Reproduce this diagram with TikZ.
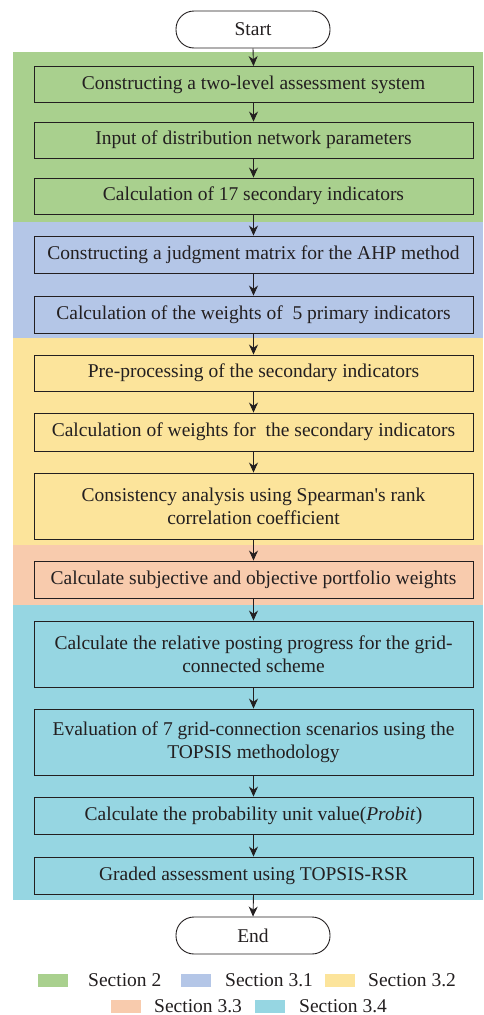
\documentclass[tikz,border=0pt]{standalone}
\usepackage{fontspec}
\setmainfont{Liberation Serif}[Ligatures=TeXOff]
\usetikzlibrary{arrows.meta}
\definecolor{secA}{RGB}{169,208,142}
\definecolor{secB}{RGB}{180,198,231}
\definecolor{secC}{RGB}{252,228,155}
\definecolor{secD}{RGB}{248,203,173}
\definecolor{secE}{RGB}{150,214,226}
\definecolor{ink}{RGB}{35,31,32}
\tikzset{
  stepbox/.style={draw=ink, line width=0.9pt, minimum width=439pt, inner sep=0pt,
    align=center, text=ink, font=\fontsize{19.5}{23}\selectfont},
  termbox/.style={draw=ink, line width=0.9pt, minimum width=154pt, minimum height=37pt,
    rounded corners=18pt, inner sep=0pt, text=ink, font=\fontsize{19.5}{23}\selectfont},
  flow/.style={draw=ink, line width=0.9pt, -{Stealth[length=10pt,width=9pt]}},
  swatch/.style={draw=none, minimum width=30pt, minimum height=13pt, inner sep=0pt},
  legtext/.style={text=ink, font=\fontsize{19.5}{23}\selectfont, anchor=west, inner sep=0pt}
}
\begin{document}
\begin{tikzpicture}[x=1pt,y=-1pt]
\useasboundingbox (0,0) rectangle (483,1015);
% section bands
\fill[secA] (13,52) rectangle (483,222);
\fill[secB] (13,222) rectangle (483,338);
\fill[secC] (13,338) rectangle (483,545);
\fill[secD] (13,545) rectangle (483,605);
\fill[secE] (13,605) rectangle (483,900);

% terminals and steps
\node[termbox] (start) at (253,29.5) {Start};
\node[stepbox, minimum height=36pt] (s1) at (253.5,84.5) {Constructing a two-level assessment system};
\node[stepbox, minimum height=36pt] (s2) at (253.5,140) {Input of distribution network parameters};
\node[stepbox, minimum height=36pt] (s3) at (253.5,196) {Calculation of 17 secondary indicators};
\node[stepbox, minimum height=37pt] (s4) at (253.5,254.5) {Constructing a judgment matrix for the AHP method};
\node[stepbox, minimum height=37pt] (s5) at (253.5,314.5) {Calculation of the weights of~ 5 primary indicators};
\node[stepbox, minimum height=36pt] (s6) at (253.5,373) {Pre-processing of the secondary indicators};
\node[stepbox, minimum height=38pt] (s7) at (253.5,432) {Calculation of weights for~ the secondary indicators};
\node[stepbox, minimum height=66pt] (s8) at (253.5,506) {Consistency analysis using Spearman's rank\\correlation coefficient};
\node[stepbox, minimum height=37pt] (s9) at (253.5,579.5) {Calculate subjective and objective portfolio weights};
\node[stepbox, minimum height=66pt] (s10) at (253.5,654) {Calculate the relative posting progress for the grid-\\connected scheme};
\node[stepbox, minimum height=66pt] (s11) at (253.5,742) {Evaluation of 7 grid-connection scenarios using the\\TOPSIS methodology};
\node[stepbox, minimum height=37pt] (s12) at (253.5,815.5) {Calculate the probability unit value(\textit{Probit})};
\node[stepbox, minimum height=37pt] (s13) at (253.5,875.5) {Graded assessment using TOPSIS-RSR};
\node[termbox] (end) at (253,935.5) {End};

% connectors
\foreach \a/\b in {start/s1,s1/s2,s2/s3,s3/s4,s4/s5,s5/s6,s6/s7,s7/s8,s8/s9,s9/s10,s10/s11,s11/s12,s12/s13,s13/end}
  \draw[flow] (\a.south) -- (\b.north);

% legend
\node[swatch, fill=secA] (kA) at (52.5,980) {};
\node[legtext] (lA) at (88,980) {Section 2};
\node[swatch, fill=secB] (kB) at (196,980) {};
\node[legtext] (lB) at (225,980) {Section 3.1};
\node[swatch, fill=secC] (kC) at (340,980) {};
\node[legtext] (lC) at (368,980) {Section 3.2};
\node[swatch, fill=secD] (kD) at (126,1006) {};
\node[legtext] (lD) at (154,1006) {Section 3.3};
\node[swatch, fill=secE] (kE) at (269.5,1006) {};
\node[legtext] (lE) at (299,1006) {Section 3.4};
\end{tikzpicture}
\end{document}
